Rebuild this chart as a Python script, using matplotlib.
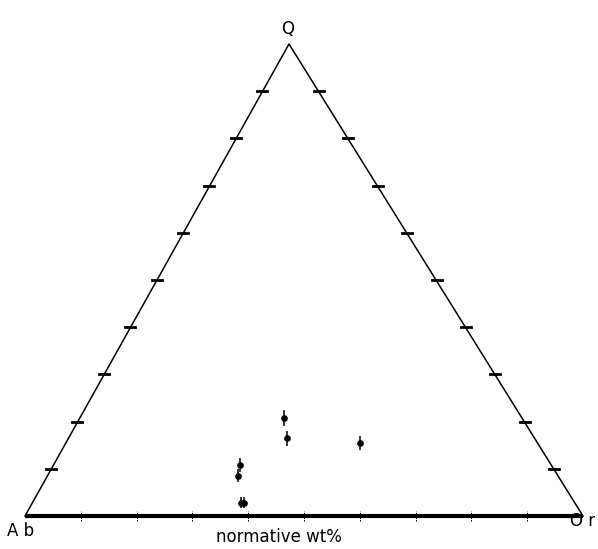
import matplotlib
matplotlib.use("Agg")
import matplotlib.pyplot as plt

# Normative compositions (wt%), Q - Ab - Or ternary
q_wt = [20.8, 16.5, 15.4, 10.8, 8.5, 2.8, 2.8]
or_wt = [36.5, 39.1, 52.7, 33.4, 34.1, 37.3, 37.9]
ab_wt = [42.7, 44.4, 31.9, 55.8, 57.4, 59.9, 59.3]
q_err = [1.7, 1.6, 1.5, 1.4, 1.4, 1.2, 1.2]

tick_fracs = [0.1, 0.2, 0.3, 0.4, 0.5, 0.6, 0.7, 0.8, 0.9]
vertex_labels = ["Q", "A b", "O r"]
axis_title = "normative wt%"

W, H = 598, 549
# triangle placement in pixels: base from x=25 to 583 at 33 px, apex at (289, 505)
x0, x1 = 25, 583
yb, ya = 33, 505
xa = 289
sx = x1 - x0
sy = ya - yb
apex_x = (xa - x0) / sx  # apex slightly left of the base midpoint


def to_xy(q, o, a):
    tot = q + o + a
    qf, of = q / tot, o / tot
    return of + qf * apex_x, qf


fig = plt.figure(figsize=(W / 100, H / 100), dpi=100)
ax = fig.add_axes([0, 0, 1, 1])
ax.set_xlim(-x0 / sx, (W - x0) / sx)
ax.set_ylim(-yb / sy, (H - yb) / sy)
ax.axis("off")

# triangle sides
ax.plot([0, apex_x, 1], [0, 1, 0], color="black", lw=1.1)
ax.plot([0, 1], [0, 0], color="black", lw=3.0, solid_capstyle="butt")

# edge ticks: short horizontal dashes
dx = 5 / sx
for t in tick_fracs:
    xl = t * apex_x
    xr = 1 - t * (1 - apex_x)
    ax.plot([xl - dx * 1.1, xl + dx * 0.9], [t, t], color="black", lw=2.0)
    ax.plot([xr - dx * 0.9, xr + dx * 1.1], [t, t], color="black", lw=2.0)

# base ticks
dy = 5 / sy
for t in tick_fracs:
    ax.plot([t, t], [-dy, dy], color="black", lw=0.7, ls=(0, (1.5, 1)))

# data points with vertical error bars
for q, o, a, e in zip(q_wt, or_wt, ab_wt, q_err):
    x, y = to_xy(q, o, a)
    ax.errorbar([x], [y], yerr=[[e / 100.0], [e / 100.0]], fmt="o",
                ms=3.8, color="black", ecolor="black", elinewidth=1.1, capsize=0)


def px(xp, yp_top):
    return (xp - x0) / sx, ((H - yp_top) - yb) / sy


ax.text(*px(288, 29), vertex_labels[0], ha="center", va="center",
        fontsize=12, family="DejaVu Sans")
ax.text(*px(21, 531), vertex_labels[1], ha="center", va="center",
        fontsize=12, family="DejaVu Sans")
ax.text(*px(583, 521), vertex_labels[2], ha="center", va="center",
        fontsize=12, family="DejaVu Sans")
ax.text(*px(279, 537), axis_title, ha="center", va="center",
        fontsize=12, family="DejaVu Sans")

fig.savefig("out.png", dpi=100, facecolor="white")
